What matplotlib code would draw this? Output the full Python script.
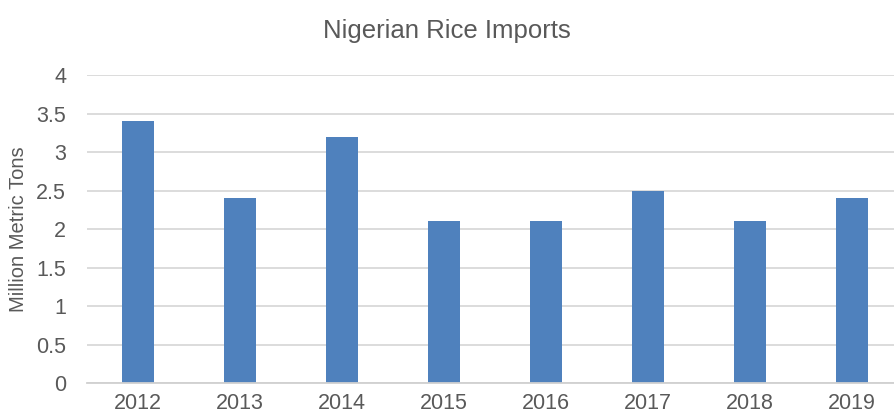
import matplotlib
matplotlib.use("Agg")
import matplotlib.pyplot as plt

years = ["2012", "2013", "2014", "2015", "2016", "2017", "2018", "2019"]
imports_mmt = [3.4, 2.4, 3.2, 2.1, 2.1, 2.5, 2.1, 2.4]
y_ticks = [0, 0.5, 1, 1.5, 2, 2.5, 3, 3.5, 4]
y_tick_labels = ["0", "0.5", "1", "1.5", "2", "2.5", "3", "3.5", "4"]

plt.rcParams["font.family"] = ["Liberation Sans", "DejaVu Sans"]
text_color = "#595959"

fig = plt.figure(figsize=(8.94, 4.16), dpi=100)
ax = fig.add_axes([0.0973, 0.0793, 0.9027, 0.7404])

x = list(range(len(years)))
ax.bar(x, imports_mmt, width=0.31, color="#4F81BD", zorder=3)

ax.set_xlim(-0.5, 7.41)
ax.set_ylim(0, 4)
ax.set_yticks(y_ticks)
ax.set_yticklabels(y_tick_labels)
ax.set_xticks(x)
ax.set_xticklabels(years)

ax.grid(axis="y", color="#D9D9D9", linewidth=1.3, zorder=0)
for side in ["top", "right", "left"]:
    ax.spines[side].set_visible(False)
ax.spines["bottom"].set_color("#D0D0D0")
ax.spines["bottom"].set_linewidth(1.3)
ax.spines["bottom"].set_zorder(4)

ax.tick_params(axis="both", length=0, labelsize=15.5, labelcolor=text_color)
ax.tick_params(axis="y", pad=15)
ax.tick_params(axis="x", pad=7)

ax.set_ylabel("Million Metric Tons", fontsize=14.5, color=text_color, labelpad=6)
fig.suptitle("Nigerian Rice Imports", fontsize=18.5, color=text_color, y=0.955)

fig.savefig("out.png", dpi=100)
